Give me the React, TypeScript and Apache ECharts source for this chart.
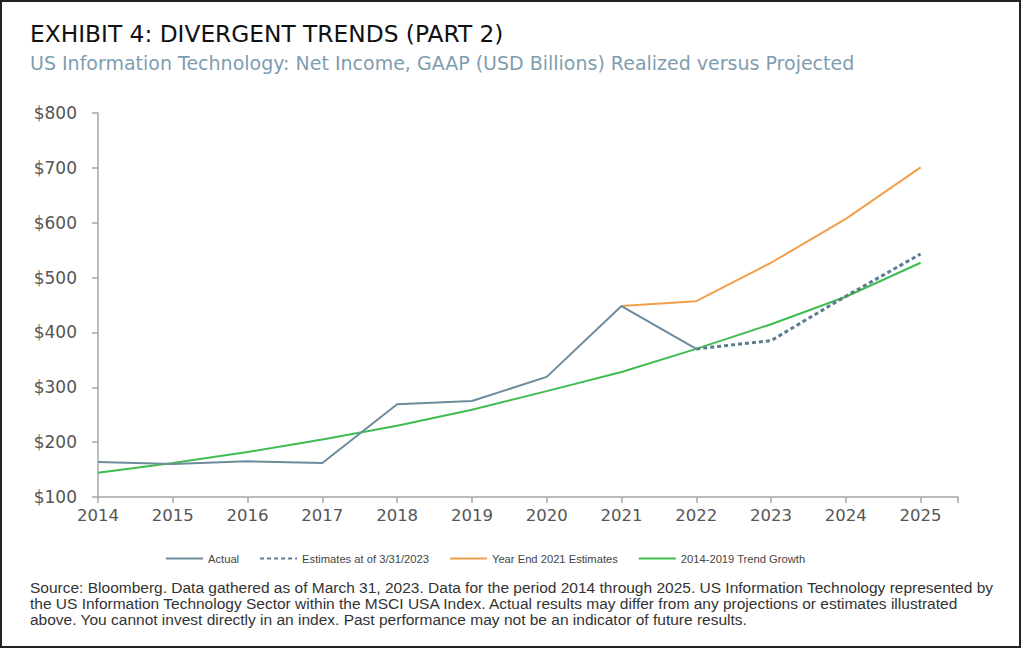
import React, { useEffect, useRef } from "react";
import * as echarts from "echarts";

const years = [2014, 2015, 2016, 2017, 2018, 2019, 2020, 2021, 2022, 2023, 2024, 2025];
const actual = [164, 160, 165, 162, 269, 275, 319, 448, 370, null, null, null];
const estimates = [null, null, null, null, null, null, null, null, 370, 385, 466, 543];
const yearEnd2021 = [null, null, null, null, null, null, null, 448, 457, 527, 607, 701];
const trend = [144, 162, 182, 205, 230, 259, 293, 328, 370, 415, 465, 527];

const seriesNames = ["Actual", "Estimates at of 3/31/2023", "Year End 2021 Estimates", "2014-2019 Trend Growth"];
const titleText = "EXHIBIT 4: DIVERGENT TRENDS (PART 2)";
const subtitleText = "US Information Technology: Net Income, GAAP (USD Billions) Realized versus Projected";
const footnoteLines = [
  "Source: Bloomberg. Data gathered as of March 31, 2023. Data for the period 2014 through 2025. US Information Technology represented by",
  "the US Information Technology Sector within the MSCI USA Index. Actual results may differ from any projections or estimates illustrated",
  "above. You cannot invest directly in an index. Past performance may not be an indicator of future results.",
];

const pairs = (vals: (number | null)[]) => years.map((y, i) => [y, vals[i]]);

export default function App() {
  const ref = useRef<HTMLDivElement>(null);
  useEffect(() => {
    if (!ref.current) return;
    const chart = echarts.init(ref.current, null, { renderer: "svg" });
    const axisFont = "DejaVu Sans";
    chart.setOption({
      animation: false,
      backgroundColor: "#ffffff",
      title: {
        text: titleText,
        subtext: subtitleText,
        left: 25,
        top: 15,
        itemGap: 6,
        textStyle: { fontFamily: "DejaVu Sans", fontSize: 23.3, fontWeight: "normal", color: "#111111", lineHeight: 26 },
        subtextStyle: { fontFamily: "DejaVu Sans", fontSize: 19, color: "#7f9db0", lineHeight: 22 },
      },
      legend: {
        left: 160,
        top: 548,
        itemWidth: 37,
        itemHeight: 10,
        itemGap: 20,
        itemStyle: { opacity: 0 },
        textStyle: { fontFamily: "Liberation Sans", fontSize: 11.2, color: "#444444" },
        data: seriesNames,
      },
      grid: { left: 98, right: 66, top: 113, bottom: 154, containLabel: false },
      xAxis: {
        type: "value",
        min: 2014,
        max: 2025.5,
        interval: 1,
        splitLine: { show: false },
        axisLine: { lineStyle: { color: "#a6a6a6", width: 1.5 } },
        axisTick: { length: 6, lineStyle: { color: "#a6a6a6", width: 1.5 } },
        axisLabel: {
          margin: 10,
          fontFamily: axisFont,
          fontSize: 16.5,
          color: "#555555",
          formatter: (v: number) => (Number.isInteger(v) ? String(v) : ""),
        },
      },
      yAxis: {
        type: "value",
        min: 100,
        max: 800,
        interval: 100,
        splitLine: { show: false },
        axisLine: { show: true, lineStyle: { color: "#a6a6a6", width: 1.5 } },
        axisTick: { show: true, length: 6, lineStyle: { color: "#a6a6a6", width: 1.5 } },
        axisLabel: {
          margin: 21,
          fontFamily: axisFont,
          fontSize: 17,
          color: "#555555",
          formatter: (v: number) => "$" + v,
        },
      },
      series: [
        {
          name: seriesNames[3],
          type: "line",
          data: pairs(trend),
          symbol: "none",
          lineStyle: { color: "#3fbd50", width: 2 },
          itemStyle: { color: "#3fbd50" },
          z: 2,
        },
        {
          name: seriesNames[2],
          type: "line",
          data: pairs(yearEnd2021),
          symbol: "none",
          lineStyle: { color: "#f0a04b", width: 2 },
          itemStyle: { color: "#f0a04b" },
          z: 3,
        },
        {
          name: seriesNames[1],
          type: "line",
          data: pairs(estimates),
          symbol: "none",
          lineStyle: { color: "#5c7b8f", width: 3, type: [4, 3] },
          itemStyle: { color: "#5c7b8f" },
          z: 4,
        },
        {
          name: seriesNames[0],
          type: "line",
          data: pairs(actual),
          symbol: "none",
          lineStyle: { color: "#6d8b9c", width: 2 },
          itemStyle: { color: "#6d8b9c" },
          z: 5,
        },
      ],
      graphic: [
        {
          type: "rect",
          shape: { x: 1, y: 1, width: 1019, height: 646 },
          style: { fill: "none", stroke: "#222222", lineWidth: 2 },
          silent: true,
        },
        {
          type: "text",
          x: 30,
          y: 579,
          style: {
            text: footnoteLines.join("\n"),
            fontFamily: "Liberation Sans",
            fontSize: 15.5,
            lineHeight: 16,
            fill: "#333333",
          },
        },
      ],
    });
    return () => chart.dispose();
  }, []);
  return <div ref={ref} style={{ position: "absolute", left: 0, top: 0, width: 1024, height: 651 }} />;
}
